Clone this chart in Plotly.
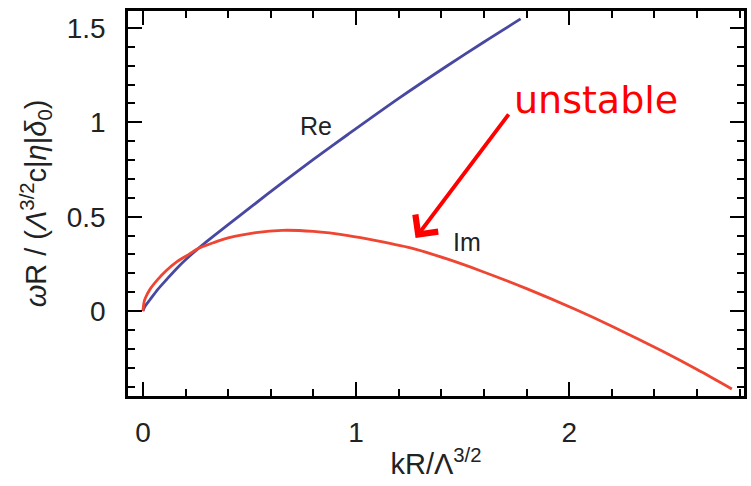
import plotly.graph_objects as go

# Data
x_re = [0, 0.01, 0.033, 0.07, 0.11, 0.17, 0.234, 0.3, 0.4, 0.513, 0.65, 0.8, 0.963, 1.2, 1.428, 1.6, 1.772]
re_vals = [0, 0.025, 0.06, 0.115, 0.166, 0.239, 0.306, 0.369, 0.458, 0.557, 0.677, 0.804, 0.937, 1.127, 1.300, 1.426, 1.548]

x_im = [0, 0.005, 0.01, 0.033, 0.07, 0.11, 0.16, 0.219, 0.257, 0.33, 0.4, 0.53, 0.653, 0.8, 0.963, 1.1, 1.273,
        1.43, 1.583, 1.8, 2.033, 2.2, 2.436, 2.6, 2.763]
im_vals = [0, 0.045, 0.065, 0.115, 0.168, 0.215, 0.262, 0.303, 0.33, 0.362, 0.388, 0.416, 0.428, 0.422, 0.40, 0.372, 0.33,
           0.275, 0.214, 0.119, 0.007, -0.08, -0.212, -0.31, -0.413]

x_tickvals = [0, 1, 2]
x_ticktext = ["0", "1", "2"]
y_tickvals = [0, 0.5, 1, 1.5]
y_ticktext = ["0", "0.5", "1", "1.5"]

BLUE = "#4848A2"
RED = "#EE4632"
TXT = "#222222"
FONT = "Liberation Sans, Arial, sans-serif"

fig = go.Figure()
fig.add_trace(go.Scatter(x=x_re, y=re_vals, mode="lines", line=dict(color=BLUE, width=2.8, shape="spline", smoothing=0.8),
                         name="Re", showlegend=False, hoverinfo="skip"))
fig.add_trace(go.Scatter(x=x_im, y=im_vals, mode="lines", line=dict(color=RED, width=2.8, shape="spline", smoothing=0.8),
                         name="Im", showlegend=False, hoverinfo="skip"))

fig.add_annotation(x=0.814, y=0.98, text="Re", showarrow=False, font=dict(family=FONT, size=25, color=TXT))
fig.add_annotation(x=1.521, y=0.366, text="Im", showarrow=False, font=dict(family=FONT, size=25, color=TXT))
fig.add_annotation(x=2.126, y=1.12, text="unstable", showarrow=False,
                   font=dict(family="DejaVu Sans", size=38, color="#FF0000"))
fig.add_annotation(x=1.279, y=0.387, ax=1.721, ay=1.05, axref="x", ayref="y", xref="x", yref="y",
                   text="", showarrow=True, arrowhead=4, arrowsize=1.45, arrowwidth=3.8, arrowcolor="#FF0000")

axis_common = dict(showgrid=False, zeroline=False, showline=True, linecolor="black", linewidth=2.5,
                   mirror="allticks", ticks="inside", ticklen=14, tickwidth=2, tickcolor="black",
                   tickfont=dict(family=FONT, size=28, color=TXT))

fig.update_xaxes(range=[-0.07, 2.82], tickvals=x_tickvals, ticktext=x_ticktext,
                 minor=dict(ticks="inside", ticklen=7, tickwidth=2, tickcolor="black", dtick=0.2, tick0=0),
                 ticklabelstandoff=10,
                 title=dict(text="kR/Λ<sup>3/2</sup>", font=dict(family=FONT, size=29, color=TXT), standoff=7),
                 **axis_common)
fig.update_yaxes(range=[-0.45, 1.59], tickvals=y_tickvals, ticktext=y_ticktext,
                 minor=dict(ticks="inside", ticklen=7, tickwidth=2, tickcolor="black", dtick=0.1, tick0=0),
                 ticklabelstandoff=14,
                 title=dict(text="<i>ω</i>R / (<i>Λ</i><sup>3/2</sup>c|<i>η</i>|<i>δ</i><sub>0</sub>)",
                            font=dict(family=FONT, size=29, color=TXT), standoff=12),
                 **axis_common)

fig.update_layout(width=751, height=486, margin=dict(l=128, r=4, t=11, b=90),
                  plot_bgcolor="white", paper_bgcolor="white")

fig.write_html("out.html", config={"displayModeBar": False},
               post_script="document.body.style.margin='0';document.body.style.overflow='hidden';")
